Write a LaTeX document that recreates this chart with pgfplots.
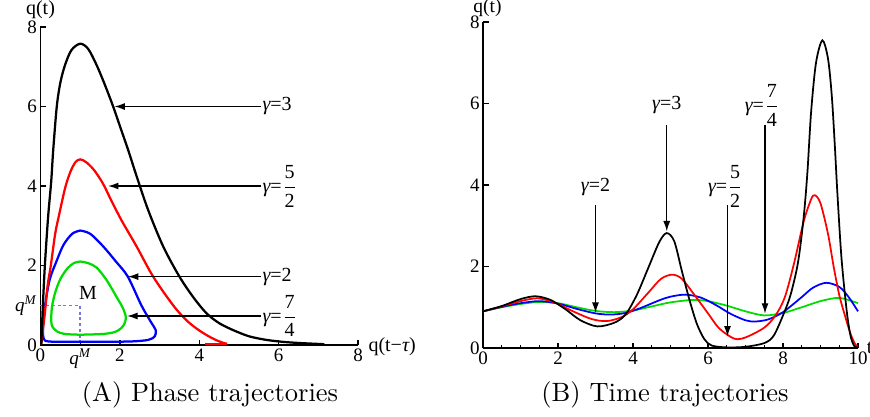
\documentclass[border=0pt]{standalone}
\usepackage{fontspec}
\usepackage{pgfplots}
\pgfplotsset{compat=1.18}
\usetikzlibrary{arrows.meta}
\newfontfamily\tms{Liberation Serif}
\definecolor{cgreen}{RGB}{0,220,0}
\definecolor{dotblue}{RGB}{120,120,215}
\newcommand{\fr}[2]{$\displaystyle\frac{\mbox{\tms #1}}{\mbox{\tms #2}}$}
\newcommand{\lbl}{\tms\fontsize{8}{9.5}\selectfont}
\newcommand{\g}{{\itshape γ}=}
\tikzset{arr/.style={-{Latex[length=4.2pt,width=2.8pt]}, line width=0.55pt, black}}
\begin{document}
\begin{tikzpicture}
\pgfplotsset{
  every axis/.append style={
    scale only axis, axis lines=left, axis line style={-, line width=0.6pt},
    tick align=inside, tick style={black, line width=0.5pt},
    major tick length=2.2pt, minor tick length=1.3pt,
    ticklabel style={font=\tms\fontsize{7.6}{8.5}\selectfont, inner sep=1.2pt},
    /pgf/number format/assume math mode=true,
    clip=false,
  },
}
% ---------------- (A) phase trajectories
\begin{axis}[at={(16.2pt,28.4pt)}, anchor=south west,
  x=15.88pt, y=15.9pt, xmin=0, xmax=8, ymin=0, ymax=8,
  xtick={0,1,2,4,6,8}, xticklabels={0,{\itshape q\textsuperscript{M}},2,4,6,8},
  ytick={0,1,2,4,6,8}, yticklabels={0,{\itshape q\textsuperscript{M}},2,4,6,8}]
\addplot[dotblue, line width=0.6pt, dash pattern=on 1.2pt off 1.1pt] coordinates {(0,1) (1,1) (1,0)};
\addplot[cgreen, line width=0.9pt, smooth] coordinates {(1.0,2.1) (1.2,2.06) (1.41,1.95) (1.66,1.64) (1.91,1.22) (2.08,0.92) (2.15,0.7) (2.12,0.55) (2.04,0.43) (1.88,0.33) (1.6,0.28) (1.0,0.26) (0.6,0.28) (0.42,0.34) (0.3,0.46) (0.27,0.62) (0.29,0.96) (0.37,1.32) (0.5,1.66) (0.68,1.93) (0.84,2.06) (1.0,2.1)};
\addplot[blue, line width=0.9pt, smooth] coordinates {(1.0,2.88) (1.25,2.8) (1.58,2.48) (1.9,2.1) (2.2,1.72) (2.54,1.0) (2.78,0.58) (2.9,0.38) (2.88,0.22) (2.72,0.13) (2.3,0.09) (1.5,0.08) (0.6,0.08) (0.2,0.09) (0.09,0.14) (0.06,0.38) (0.11,0.96) (0.23,1.64) (0.4,2.1) (0.58,2.52) (0.8,2.8) (1.0,2.88)};
\addplot[red, line width=0.9pt, smooth] coordinates {(0.02,0.02) (0.05,0.3) (0.11,0.8) (0.18,1.5) (0.26,2.0) (0.37,2.8) (0.47,3.28) (0.62,3.95) (0.75,4.35) (0.88,4.6) (1.0,4.67) (1.15,4.6) (1.35,4.4) (1.58,4.05) (1.8,3.6) (2.05,3.12) (2.42,2.48) (2.79,1.8) (3.1,1.33) (3.42,0.9) (3.7,0.6) (3.95,0.4) (4.2,0.24) (4.43,0.12) (4.62,0.05) (4.7,0.03)};
\addplot[red, line width=0.9pt] coordinates {(4.7,0.03) (4.15,0.03)};
\addplot[black, line width=0.9pt, smooth] coordinates {(0.02,0.02) (0.04,0.5) (0.06,1.0) (0.11,2.0) (0.19,3.2) (0.27,4.12) (0.32,4.9) (0.41,6.0) (0.5,6.6) (0.62,7.05) (0.78,7.42) (1.0,7.58) (1.2,7.45) (1.41,7.05) (1.62,6.55) (1.83,6.0) (2.02,5.45) (2.21,4.9) (2.42,4.25) (2.71,3.4) (3.09,2.48) (3.5,1.72) (3.85,1.2) (4.18,0.8) (4.5,0.55) (4.84,0.38) (5.25,0.22) (5.68,0.13) (6.1,0.08) (6.52,0.05) (7.15,0.02)};
\draw[arr] (axis cs:5.55,6) -- (axis cs:1.86,6);
\draw[arr] (axis cs:5.55,4) -- (axis cs:1.7,4);
\draw[arr] (axis cs:5.55,1.72) -- (axis cs:2.2,1.72);
\draw[arr] (axis cs:5.55,0.73) -- (axis cs:2.18,0.73);
\node[anchor=west, inner sep=0.5pt, font=\lbl] at (axis cs:5.55,6) {\g3};
\node[anchor=west, inner sep=0.5pt, font=\lbl] at (axis cs:5.55,4) {\g\fr{5}{2}};
\node[anchor=west, inner sep=0.5pt, font=\lbl] at (axis cs:5.55,1.72) {\g2};
\node[anchor=west, inner sep=0.5pt, font=\lbl] at (axis cs:5.55,0.73) {\g\fr{7}{4}};
\node[font=\lbl] at (axis cs:1.2,1.3) {M};
\node[inner sep=0pt, font=\lbl] at (axis cs:0,8.43) {q(t)};
\node[anchor=west, inner sep=0pt, font=\lbl] at (axis cs:8.25,-0.05) {q(t−{\itshape τ})};
\end{axis}
% ---------------- (B) time trajectories
\begin{axis}[at={(193.2pt,27.2pt)}, anchor=south west,
  x=15pt, y=16.3pt, xmin=0, xmax=10, ymin=0, ymax=8,
  xtick={0,2,...,10}, minor x tick num=3, ytick={0,2,...,8}]
\addplot[cgreen, line width=0.7pt, smooth] coordinates {(0,0.9) (0.5,1.0) (1.0,1.08) (1.5,1.13) (2.0,1.1) (2.5,1.0) (3.0,0.91) (3.5,0.88) (4.0,0.92) (4.5,1.02) (5.0,1.12) (5.6,1.18) (6.0,1.15) (6.5,1.04) (7.0,0.9) (7.5,0.8) (8.0,0.86) (8.5,1.0) (9.0,1.15) (9.5,1.23) (10,1.1)};
\addplot[blue, line width=0.7pt, smooth] coordinates {(0,0.9) (0.5,1.01) (1.0,1.1) (1.5,1.15) (2.0,1.09) (2.5,0.96) (3.0,0.85) (3.4,0.82) (3.8,0.86) (4.2,0.98) (4.7,1.17) (5.0,1.26) (5.4,1.31) (5.8,1.24) (6.2,1.06) (6.6,0.84) (7.0,0.68) (7.25,0.65) (7.6,0.7) (8.0,0.88) (8.5,1.25) (8.8,1.48) (9.15,1.6) (9.5,1.5) (9.75,1.25) (10,0.9)};
\addplot[red, line width=0.7pt, smooth] coordinates {(0,0.9) (0.5,1.02) (1.0,1.15) (1.45,1.22) (1.9,1.12) (2.4,0.9) (2.9,0.71) (3.3,0.66) (3.7,0.76) (4.0,0.95) (4.4,1.35) (4.75,1.7) (5.05,1.8) (5.3,1.7) (5.6,1.35) (6.0,0.85) (6.3,0.48) (6.7,0.23) (7.0,0.26) (7.5,0.5) (7.8,0.8) (8.05,1.25) (8.3,2.1) (8.55,3.1) (8.75,3.65) (8.85,3.75) (9.0,3.55) (9.2,2.8) (9.35,2.0) (9.5,1.3) (9.65,0.8) (9.8,0.35) (9.92,0.1) (10,0.03)};
\addplot[black, line width=0.7pt, smooth] coordinates {(0,0.9) (0.5,1.03) (1.0,1.2) (1.4,1.27) (1.8,1.18) (2.2,0.95) (2.6,0.68) (3.05,0.53) (3.5,0.62) (3.8,0.82) (4.1,1.3) (4.4,1.95) (4.7,2.6) (4.9,2.82) (5.1,2.62) (5.3,1.9) (5.5,1.2) (5.7,0.6) (5.9,0.22) (6.1,0.06) (6.5,0.015) (7.0,0.03) (7.5,0.12) (7.75,0.3) (8.0,0.8) (8.2,1.3) (8.4,2.1) (8.55,3.2) (8.65,4.3) (8.75,5.8) (8.88,7.0) (9.05,7.55) (9.2,7.1) (9.3,6.2) (9.38,5.0) (9.45,3.8) (9.56,2.2) (9.7,0.9) (9.8,0.3) (9.9,0.05) (10,0.01)};
\draw[arr] (axis cs:3.0,3.5) -- (axis cs:3.0,0.86);
\draw[arr] (axis cs:4.9,5.47) -- (axis cs:4.9,2.86);
\draw[arr] (axis cs:6.52,3.5) -- (axis cs:6.52,0.28);
\draw[arr] (axis cs:7.52,5.47) -- (axis cs:7.52,0.84);
\node[font=\lbl] at (axis cs:3.0,3.96) {\g2};
\node[font=\lbl] at (axis cs:4.9,5.96) {\g3};
\node[font=\lbl] at (axis cs:6.47,3.96) {\g\fr{5}{2}};
\node[font=\lbl] at (axis cs:7.45,5.96) {\g\fr{7}{4}};
\node[inner sep=0pt, font=\tms\fontsize{7.8}{9}\selectfont] at (axis cs:0.12,8.34) {q(t)};
\node[anchor=west, inner sep=0pt, font=\lbl] at (axis cs:10.22,0) {t};
\end{axis}
\node[anchor=base, font=\fontsize{10.6}{12}\selectfont] at (84pt,5.7pt) {(A) Phase trajectories};
\node[anchor=base, font=\fontsize{10.6}{12}\selectfont] at (266pt,5.7pt) {(B) Time trajectories};
\pgfresetboundingbox
\path[use as bounding box] (0,0) rectangle (348pt,166.4pt);
\end{tikzpicture}
\end{document}
